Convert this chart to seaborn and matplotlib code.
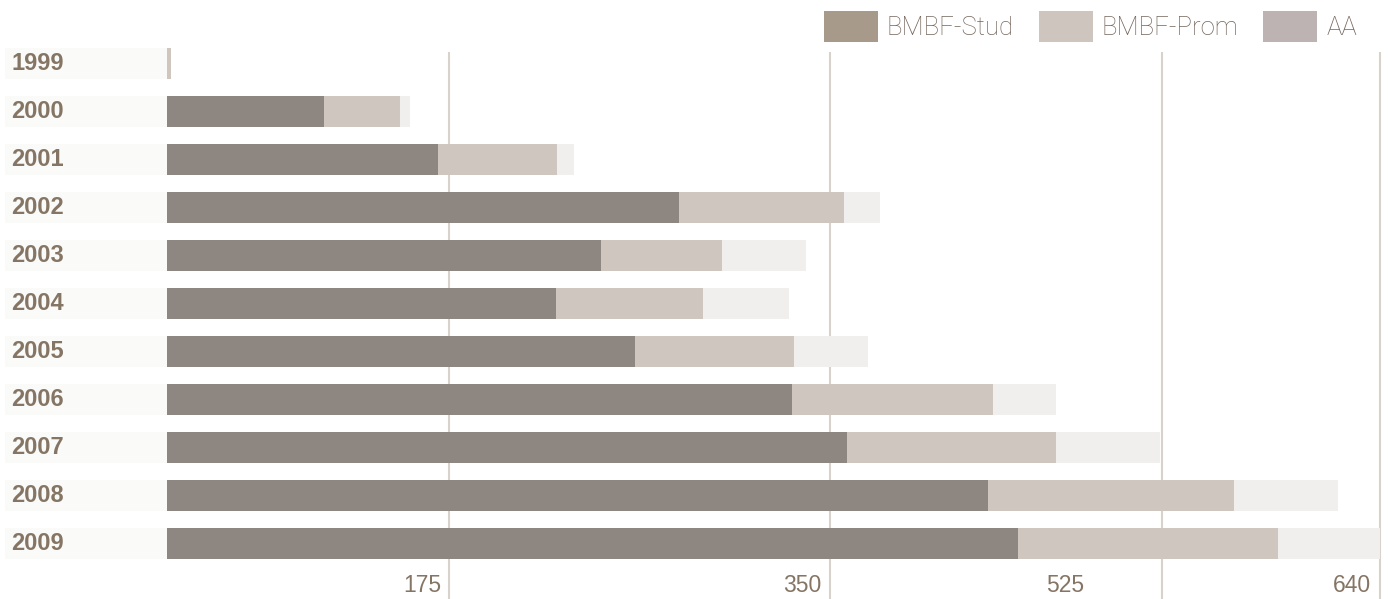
"""
plot.py
Stacked horizontal bars of BMBF-Stud / BMBF-Prom / AA per year, 1999-2009.
"""

import matplotlib
matplotlib.use("Agg")
import matplotlib.pyplot as plt
from matplotlib.patches import Patch
import seaborn as sns
import numpy as np

sns.set_theme(style="white")

# data
years = ["1999", "2000", "2001", "2002", "2003", "2004",
         "2005", "2006", "2007", "2008", "2009"]
stud = [0, 83, 143, 270, 229, 205, 247, 330, 359, 433, 449]
prom = [2, 40, 63, 87, 64, 78, 84, 106, 110, 130, 137]
aa = [0, 5, 9, 19, 44, 45, 39, 33, 55, 55, 54]

grid_vals = [149, 350, 525, 640]
tick_labels = ["175", "350", "525", "640"]
tick_label_x = [145, 345.5, 484, 635.5]

series_names = ["BMBF-Stud", "BMBF-Prom", "AA"]
bar_colors = ["#8e8680", "#cec6bf", "#f0efed"]
legend_colors = ["#a89a8a", "#cdc5be", "#bdb3b2"]
BOX = "#fafaf8"
TXT = "#857565"
GRID = "#d8d2cc"
FONT = ["Liberation Sans", "DejaVu Sans"]

stud_a = np.array(stud, dtype=float)
prom_a = np.array(prom, dtype=float)
aa_a = np.array(aa, dtype=float)

W, H = 1388, 599
fig = plt.figure(figsize=(W / 100, H / 100), dpi=100)

x_left, x_right = -85.5, 641
ppu = 1213 / 640  # pixels per unit
ax_l = 167 + x_left * ppu
ax_r = 167 + x_right * ppu
ax_top, ax_bot = 39.5, 599
ax = fig.add_axes([ax_l / W, 1 - ax_bot / H, (ax_r - ax_l) / W, (ax_bot - ax_top) / H])

bar_h = 31 / 48
pos = np.arange(len(years))

# gridlines behind everything
ax.vlines(grid_vals, -0.25, 12, colors=GRID, linewidth=1.5, zorder=0, clip_on=False)

# year label boxes
ax.barh(pos, width=-x_left, left=x_left, height=bar_h, color=BOX, linewidth=0, zorder=1)

# stacked bars drawn back to front with seaborn
layers = [stud_a + prom_a + aa_a, stud_a + prom_a, stud_a]
for vals, col in zip(layers, bar_colors[::-1]):
    sns.barplot(x=vals, y=years, orient="h", color=col, saturation=1,
                width=bar_h, linewidth=0, errorbar=None, ax=ax, zorder=2)

for i, yr in enumerate(years):
    ax.text(x_left + 3.2, i, yr, ha="left", va="center", fontsize=17,
            fontweight="bold", color=TXT, family=FONT)

for xv, lab in zip(tick_label_x, tick_labels):
    ax.text(xv, 10.87, lab, ha="right", va="center", fontsize=16.5,
            color=TXT, family=FONT)

ax.set_xlim(x_left, x_right)
ax.set_ylim((ax_bot - 63.5) / 48, (ax_top - 63.5) / 48)
ax.set_axis_off()

handles = [Patch(facecolor=c, edgecolor="none") for c in legend_colors]
leg = fig.legend(handles, series_names, loc="upper right", ncol=3, frameon=False,
                 bbox_to_anchor=(1357 / W, 1 - 11 / H), borderaxespad=0, borderpad=0,
                 handlelength=2.1, handleheight=1.5, handletextpad=0.35,
                 columnspacing=0.97, prop={"family": "Roboto", "weight": "light", "size": 18.5})
for t in leg.get_texts():
    t.set_color("#74665c")

fig.savefig("out.png", dpi=100)
plt.close(fig)
